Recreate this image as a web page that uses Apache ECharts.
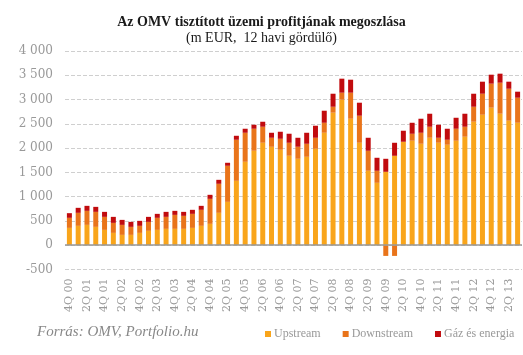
<!DOCTYPE html>
<html>
<head>
<meta charset="utf-8">
<script src="https://cdn.jsdelivr.net/npm/echarts@6/dist/echarts.min.js"></script>
<style>html,body{margin:0;padding:0;background:#fff}#c{width:523px;height:355px}</style>
</head>
<body>
<div id="c"></div>
<script>
var categories = ["4Q 00","1Q 01","2Q 01","3Q 01","4Q 01","1Q 02","2Q 02","3Q 02","4Q 02","1Q 03","2Q 03","3Q 03","4Q 03","1Q 04","2Q 04","3Q 04","4Q 04","1Q 05","2Q 05","3Q 05","4Q 05","1Q 06","2Q 06","3Q 06","4Q 06","1Q 07","2Q 07","3Q 07","4Q 07","1Q 08","2Q 08","3Q 08","4Q 08","1Q 09","2Q 09","3Q 09","4Q 09","1Q 10","2Q 10","3Q 10","4Q 10","1Q 11","2Q 11","3Q 11","4Q 11","1Q 12","2Q 12","3Q 12","4Q 12","1Q 13","2Q 13","3Q 13"];
var upstream = [357,399,419,378,316,254,213,213,254,296,316,337,337,337,357,399,440,667,893,1326,1718,1945,2110,2027,1966,1842,1780,1821,1986,2316,2729,2997,2605,2110,1533,1285,1512,1842,2131,2151,2089,2213,2110,2069,2151,2234,2543,2687,2832,2708,2564,2522];
var downstream = [207,268,289,309,268,206,206,165,145,185,248,247,288,268,289,330,515,598,743,846,598,454,330,186,226,268,248,268,227,206,123,144,536,557,412,248,-220,-220,0,144,227,227,103,103,248,206,309,433,495,639,659,516];
var gas = [96,103,103,103,103,124,103,103,103,103,82,103,83,82,83,82,83,82,62,82,83,82,103,103,145,186,185,227,248,248,268,289,268,268,268,268,268,268,227,227,289,268,268,227,226,268,268,248,185,186,145,124];
var seriesNames = ["Upstream","Downstream","Gáz és energia"];
var colors = ["#F9A51B","#E9741A","#C10B0E"];

var chart = echarts.init(document.getElementById('c'));
var serif = "Liberation Serif";
function mk(name, data, color, extra) {
  var s = {name: name, type: 'bar', stack: 'total', data: data, barWidth: 5,
    itemStyle: {color: color}, emphasis: {disabled: true}, animation: false};
  if (extra) for (var k in extra) s[k] = extra[k];
  return s;
}
chart.setOption({
  animation: false,
  color: colors,
  title: [
    {text: 'Az OMV tisztított üzemi profitjának megoszlása', left: 'center', top: 10,
     textStyle: {fontFamily: serif, fontSize: 14, fontWeight: 'bold', color: '#1a1a1a'}},
    {text: '(m EUR,  12 havi gördülő)', left: 'center', top: 26,
     textStyle: {fontFamily: serif, fontSize: 14, fontWeight: 'normal', color: '#1a1a1a'}}
  ],
  grid: {left: 65, right: 1, top: 51, bottom: 85.5, containLabel: false},
  legend: {left: 265, top: 328, width: 258, padding: 0, itemWidth: 6, itemHeight: 6, itemGap: 22, icon: 'rect',
    textStyle: {fontFamily: serif, fontSize: 12, color: '#999', padding: [0, 0, 0, -2]},
    data: seriesNames},
  graphic: [{type: 'text', left: 37, top: 325,
    style: {text: 'Forrás: OMV, Portfolio.hu', font: 'italic 15px "Liberation Serif"', fill: '#888'}}],
  xAxis: {type: 'category', data: categories,
    axisLine: {show: false, onZero: false}, axisTick: {show: false},
    axisLabel: {rotate: 90, interval: 1, margin: 9, fontFamily: 'DejaVu Serif', fontSize: 11, color: '#999'}},
  yAxis: {type: 'value', min: -500, max: 4000, interval: 500,
    axisLine: {show: false}, axisTick: {show: false},
    splitLine: {lineStyle: {type: 'dashed', color: '#cfcfcf', width: 1}},
    axisLabel: {margin: 12, fontFamily: 'DejaVu Serif', fontSize: 12, color: '#999',
      formatter: function (v) { var s = String(Math.abs(v)); if (s.length > 3) s = s.slice(0, -3) + ' ' + s.slice(-3); return (v < 0 ? '-' : '') + s; }}},
  series: [
    mk(seriesNames[0], upstream, colors[0], {markLine: {silent: true, symbol: 'none', label: {show: false},
      lineStyle: {type: 'solid', color: '#999', width: 1.5}, data: [{yAxis: 0}]}}),
    mk(seriesNames[1], downstream, colors[1]),
    mk(seriesNames[2], gas, colors[2])
  ]
});
</script>
</body>
</html>
